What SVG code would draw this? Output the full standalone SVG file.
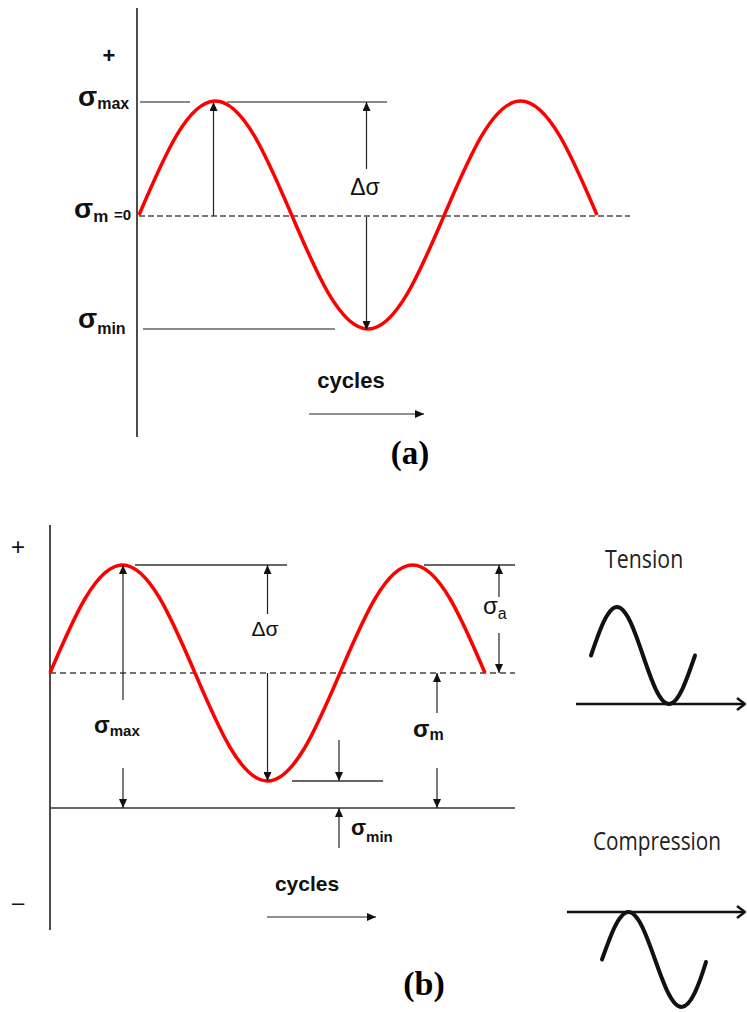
<svg xmlns="http://www.w3.org/2000/svg" width="747" height="1012" viewBox="0 0 747 1012">
<defs>
<marker id="ah" markerUnits="userSpaceOnUse" markerWidth="9" markerHeight="8" refX="9" refY="4" orient="auto">
<path d="M0,0 L9,4 L0,8 z" fill="#111"/>
</marker>
<marker id="ch" markerUnits="userSpaceOnUse" markerWidth="10" markerHeight="14" refX="9" refY="7" orient="auto">
<path d="M1,1 L9,7 L1,13" fill="none" stroke="#111" stroke-width="2.5"/>
</marker>
<style>
.axis{stroke:#111;stroke-width:1.5;fill:none}
.gl{stroke:#8a8a8a;stroke-width:2;fill:none}
.bl{stroke:#333;stroke-width:1.3;fill:none}
.dash{stroke:#777;stroke-width:2;stroke-dasharray:6 3;fill:none}
.dashb{stroke:#444;stroke-width:1.3;stroke-dasharray:6 4;fill:none}
.arr{stroke:#222;stroke-width:1.2;fill:none;marker-end:url(#ah)}
.red{stroke:#ff0000;stroke-width:3.5;fill:none}
.blk{stroke:#111;stroke-width:4;fill:none;stroke-linecap:round}
.ax2{stroke:#111;stroke-width:2.5;fill:none;marker-end:url(#ch)}
.t{font-family:"Liberation Sans",Arial,sans-serif;fill:#111}
.b{font-weight:bold}
.tb{font-family:"Liberation Serif","Times New Roman",serif;font-weight:bold;fill:#000}
.c{font-family:"Open Sans","Liberation Sans",sans-serif;fill:#222}
</style>
</defs>

<!-- Panel (a) -->
<g id="panel-a">
<line class="axis" x1="137" y1="8" x2="137" y2="437"/>
<text class="t b" x="109" y="63" font-size="22" text-anchor="middle">+</text>
<line class="gl" x1="140" y1="102" x2="190" y2="102"/>
<line class="gl" x1="227" y1="102" x2="387" y2="102"/>
<line class="gl" x1="143" y1="329" x2="335" y2="329"/>
<line class="dash" x1="139" y1="216" x2="630" y2="216"/>
<path class="red" d="M139,215 C163.89,156.6 187.71,101 215.33,101 C242.95,101 266.77,156.6 291.67,215 C316.56,273.4 340.38,329 368,329 C395.62,329 419.44,273.4 444.33,215 C469.22,156.6 493.04,101 520.67,101 C548.29,101 572.11,156.6 597,215"/>
</g>

<g id="connectors-a">
<line class="arr" x1="213.5" y1="216" x2="213.5" y2="102"/>
<line class="arr" x1="366.5" y1="169" x2="366.5" y2="102"/>
<line class="arr" x1="366.5" y1="217" x2="366.5" y2="330"/>
<line class="arr" x1="309" y1="414" x2="424" y2="414"/>
</g>

<g id="labels-a">
<text class="t b" x="78" y="106" font-size="28">σ<tspan font-size="16" dy="3">max</tspan></text>
<text class="t b" x="74" y="218" font-size="28">σ<tspan font-size="17" dy="4">m</tspan><tspan font-size="15" x="114" dy="-2">=0</tspan></text>
<text class="t b" x="78" y="328" font-size="28">σ<tspan font-size="16" dy="6">min</tspan></text>
<text class="t" x="365" y="195" font-size="23" text-anchor="middle">Δσ</text>
<text class="t b" x="351" y="388" font-size="22" text-anchor="middle">cycles</text>
<text class="tb" x="410" y="464" font-size="33" text-anchor="middle">(a)</text>
</g>

<!-- Panel (b) -->
<g id="panel-b">
<line class="axis" x1="50" y1="525" x2="50" y2="930"/>
<text class="t" x="18" y="555" font-size="24" text-anchor="middle">+</text>
<text class="t" x="18" y="910" font-size="22" text-anchor="middle">–</text>
<line class="bl" x1="135" y1="565" x2="287" y2="565"/>
<line class="bl" x1="424" y1="565" x2="515" y2="565"/>
<line class="dashb" x1="50" y1="673" x2="515" y2="673"/>
<line class="bl" x1="50" y1="808" x2="515" y2="808"/>
<line class="bl" x1="292" y1="781" x2="383" y2="781"/>
<path class="red" d="M50,673 C73.64,617.67 96.26,565 122.5,565 C148.74,565 171.36,617.67 195,673 C218.64,728.33 241.26,781 267.5,781 C293.74,781 316.36,728.33 340,673 C363.64,617.67 386.26,565 412.5,565 C438.74,565 461.36,617.67 485,673"/>
</g>

<g id="connectors-b">
<line class="arr" x1="123" y1="700" x2="123" y2="565"/>
<line class="arr" x1="123" y1="768" x2="123" y2="808"/>
<line class="arr" x1="267.5" y1="614" x2="267.5" y2="565"/>
<line class="arr" x1="267.5" y1="673" x2="267.5" y2="781"/>
<line class="arr" x1="499" y1="597" x2="499" y2="565"/>
<line class="arr" x1="499" y1="633" x2="499" y2="673"/>
<line class="arr" x1="437" y1="713" x2="437" y2="673"/>
<line class="arr" x1="437" y1="768" x2="437" y2="808"/>
<line class="arr" x1="339" y1="740" x2="339" y2="781"/>
<line class="arr" x1="339" y1="848" x2="339" y2="808"/>
<line class="arr" x1="267" y1="917" x2="376" y2="917"/>
</g>

<g id="labels-b">
<text class="t b" x="94" y="733" font-size="23">σ<tspan font-size="15" dy="3">max</tspan></text>
<text class="t" x="265" y="636" font-size="21" text-anchor="middle">Δσ</text>
<text class="t" x="483" y="614" font-size="24">σ<tspan font-size="16" dy="5">a</tspan></text>
<text class="t b" x="413" y="737" font-size="24">σ<tspan font-size="16" dy="3">m</tspan></text>
<text class="t b" x="351" y="835" font-size="22">σ<tspan font-size="15" dy="7">min</tspan></text>
<text class="t b" x="307" y="891" font-size="21" text-anchor="middle">cycles</text>
<text class="tb" x="424" y="995" font-size="34" text-anchor="middle">(b)</text>
</g>

<!-- Tension inset -->
<g id="tension">
<text class="c" transform="translate(605,568) scale(0.82,1)" font-size="26">Tension</text>
<line class="ax2" x1="576" y1="704" x2="745" y2="704"/>
<path class="blk" d="M591,655.5 C599.48,630.65 607.59,607 617,607 C626.41,607 634.52,630.65 643,655.5 C651.48,680.35 659.59,704 669,704 C678.41,704 686.52,680.35 695,655.5"/>
</g>

<!-- Compression inset -->
<g id="compression">
<text class="c" transform="translate(593,850) scale(0.8,1)" font-size="26">Compression</text>
<line class="ax2" x1="567" y1="912" x2="745" y2="912"/>
<path class="blk" d="M602,959.5 C610.64,935.17 618.91,912 628.5,912 C638.09,912 646.36,935.17 655,959.5 C663.64,983.83 671.91,1007 681.5,1007 C691.09,1007 699.36,983.83 706,962"/>
</g>
</svg>
